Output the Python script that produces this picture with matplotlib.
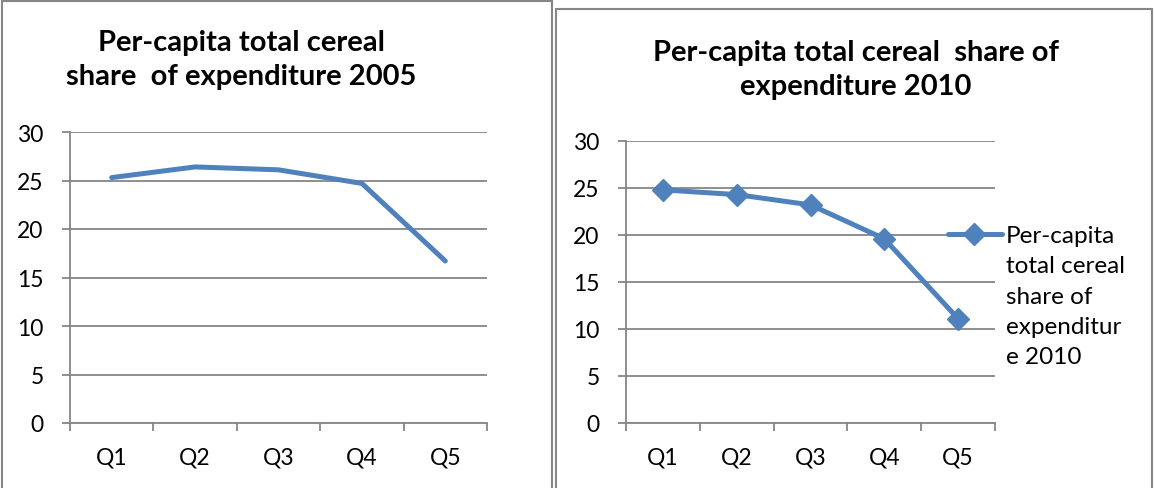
import matplotlib as mpl
mpl.use('Agg')
import matplotlib.pyplot as plt
from matplotlib.patches import Rectangle
from matplotlib.ticker import FixedLocator

quintiles = ["Q1", "Q2", "Q3", "Q4", "Q5"]
share_2005 = [25.3, 26.4, 26.1, 24.7, 16.7]
share_2010 = [24.8, 24.3, 23.2, 19.6, 11.1]

title_2005 = "Per-capita total cereal\nshare  of expenditure 2005"
title_2010 = "Per-capita total cereal  share of\nexpenditure 2010"
legend_2010 = "Per-capita\ntotal cereal\nshare of\nexpenditur\ne 2010"

W, H = 1155, 489
blue = "#4F81BD"
grey = "#868686"
fs = 16.5
tfs = 21

plt.rcParams['font.family'] = ['Lato', 'DejaVu Sans']

fig = plt.figure(figsize=(W / 100, H / 100), dpi=100)

def px_axes(x0, x1, ytop, ybot):
    return fig.add_axes([x0 / W, (H - ybot) / H, (x1 - x0) / W, (ybot - ytop) / H])

def style(ax):
    n = len(quintiles)
    ax.set_xlim(-0.5, n - 0.5)
    ax.set_ylim(0, 30)
    ax.set_yticks(range(0, 31, 5))
    ax.xaxis.set_major_locator(FixedLocator([i - 0.5 for i in range(n + 1)]))
    ax.xaxis.set_minor_locator(FixedLocator(range(n)))
    ax.set_xticklabels([])
    ax.set_xticklabels(quintiles, minor=True)
    ax.tick_params(axis="x", which="major", direction="out", length=6, width=1.3, color=grey)
    ax.tick_params(axis="x", which="minor", length=0, pad=17, labelsize=fs)
    ax.tick_params(axis="y", direction="out", length=6, width=1.3, color=grey, pad=13, labelsize=fs)
    for s in ["top", "right"]:
        ax.spines[s].set_visible(False)
    for s in ["left", "bottom"]:
        ax.spines[s].set_color(grey)
        ax.spines[s].set_linewidth(1.3)
    ax.grid(axis="y", color=grey, lw=1.3)
    ax.set_axisbelow(True)

# left chart (2005)
ax1 = px_axes(70, 487, 133, 424)
style(ax1)
ax1.plot(range(len(quintiles)), share_2005, color=blue, lw=3.6, solid_capstyle="round", clip_on=False)
fig.text(241 / W, 1 - 60 / H, title_2005, ha="center", va="center", fontsize=tfs,
         fontweight="bold", linespacing=1.35)

# right chart (2010)
ax2 = px_axes(626, 995, 142, 424)
style(ax2)
ax2.plot(range(len(quintiles)), share_2010, color=blue, lw=3.6, marker="D", markersize=11,
         solid_capstyle="round", clip_on=False)
fig.text(856 / W, 1 - 70 / H, title_2010, ha="center", va="center", fontsize=tfs,
         fontweight="bold", linespacing=1.35)

# legend drawn by hand to match the wrapped Excel legend
fig.add_artist(plt.Line2D([948 / W, 1002 / W], [1 - 235 / H] * 2, color=blue, lw=3.6,
                          solid_capstyle="round"))
fig.add_artist(plt.Line2D([974 / W], [1 - 235 / H], color=blue, marker="D", markersize=11))
fig.text(1006 / W, 1 - 226 / H, legend_2010, ha="left", va="top", fontsize=17.5, linespacing=1.55)

# chart borders
fig.add_artist(Rectangle((1.5 / W, -0.05), 550.5 / W, (H - 1.5) / H + 0.05, transform=fig.transFigure,
                         fill=False, edgecolor=grey, lw=1.5))
fig.add_artist(Rectangle((556 / W, -0.05), 596 / W, (H - 10) / H + 0.05, transform=fig.transFigure,
                         fill=False, edgecolor=grey, lw=1.5))

fig.savefig("out.png", dpi=100)
plt.close()
